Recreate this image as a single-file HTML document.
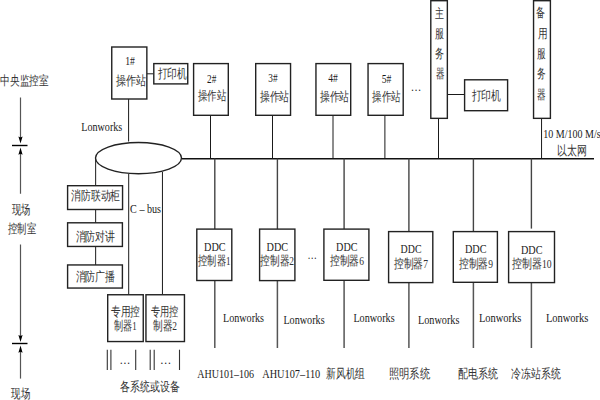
<!DOCTYPE html>
<html><head><meta charset="utf-8"><style>
html,body{margin:0;padding:0;background:#fff;width:600px;height:400px;overflow:hidden}
svg{display:block}
text{font-family:"Liberation Serif",serif;font-size:12.7px;fill:#1a1a1a}
text.c{fill:#333}
</style></head><body>
<svg width="600" height="400" viewBox="0 0 600 400">
<rect x="0" y="0" width="600" height="400" fill="#fff"/>
<line x1="147" y1="73.8" x2="153.5" y2="73.8" stroke="#1a1a1a" stroke-width="1.0"/>
<line x1="128.6" y1="99" x2="128.6" y2="141.5" stroke="#1a1a1a" stroke-width="1.0"/>
<line x1="182" y1="158.75" x2="594" y2="158.75" stroke="#111" stroke-width="1.5"/>
<line x1="210.5" y1="116" x2="210.5" y2="158.5" stroke="#1a1a1a" stroke-width="1.0"/>
<line x1="272.5" y1="116" x2="272.5" y2="158.5" stroke="#1a1a1a" stroke-width="1.0"/>
<line x1="333" y1="116" x2="333" y2="158.5" stroke="#1a1a1a" stroke-width="1.0"/>
<line x1="384.9" y1="116" x2="384.9" y2="158.5" stroke="#1a1a1a" stroke-width="1.0"/>
<line x1="438.5" y1="118" x2="438.5" y2="158.5" stroke="#1a1a1a" stroke-width="1.0"/>
<line x1="541.55" y1="118" x2="541.55" y2="158.5" stroke="#1a1a1a" stroke-width="1.0"/>
<line x1="447.5" y1="94.5" x2="464.5" y2="94.5" stroke="#1a1a1a" stroke-width="1.0"/>
<line x1="214.8" y1="158.5" x2="214.8" y2="229" stroke="#444" stroke-width="1.4"/>
<line x1="214.8" y1="280.5" x2="214.8" y2="348" stroke="#555" stroke-width="1.5"/>
<line x1="277.4" y1="158.5" x2="277.4" y2="229" stroke="#444" stroke-width="1.4"/>
<line x1="277.4" y1="280.5" x2="277.4" y2="348" stroke="#555" stroke-width="1.5"/>
<line x1="344.1" y1="158.5" x2="344.1" y2="229" stroke="#444" stroke-width="1.4"/>
<line x1="344.1" y1="280.3" x2="344.1" y2="348" stroke="#555" stroke-width="1.5"/>
<line x1="408.9" y1="158.5" x2="408.9" y2="231.6" stroke="#444" stroke-width="1.4"/>
<line x1="408.9" y1="282.5" x2="408.9" y2="348" stroke="#555" stroke-width="1.5"/>
<line x1="473.4" y1="158.5" x2="473.4" y2="231.6" stroke="#444" stroke-width="1.4"/>
<line x1="473.4" y1="282.3" x2="473.4" y2="348" stroke="#555" stroke-width="1.5"/>
<line x1="531.4" y1="158.5" x2="531.4" y2="228.6" stroke="#444" stroke-width="1.4"/>
<line x1="531.4" y1="282.5" x2="531.4" y2="348" stroke="#555" stroke-width="1.5"/>
<line x1="95.65" y1="158" x2="95.65" y2="265" stroke="#1a1a1a" stroke-width="1.0"/>
<line x1="128.7" y1="174" x2="128.7" y2="294.5" stroke="#1a1a1a" stroke-width="1.0"/>
<line x1="162.45" y1="172" x2="162.45" y2="294.5" stroke="#1a1a1a" stroke-width="1.0"/>
<line x1="107.3" y1="349.7" x2="107.3" y2="370" stroke="#333" stroke-width="1.1"/>
<line x1="110.9" y1="349.7" x2="110.9" y2="370" stroke="#333" stroke-width="1.1"/>
<line x1="135.7" y1="349.7" x2="135.7" y2="370" stroke="#333" stroke-width="1.1"/>
<line x1="150.2" y1="349.7" x2="150.2" y2="370" stroke="#333" stroke-width="1.1"/>
<line x1="154.2" y1="349.7" x2="154.2" y2="370" stroke="#333" stroke-width="1.1"/>
<line x1="179.5" y1="349.7" x2="179.5" y2="370" stroke="#333" stroke-width="1.1"/>
<line x1="20.5" y1="97.5" x2="20.5" y2="138.5" stroke="#555" stroke-width="1.2"/>
<polygon points="20.5,143.5 18.4,136.5 20.5,137.5 22.6,136.5" fill="#000"/>
<line x1="12" y1="145.5" x2="27.5" y2="145.5" stroke="#000" stroke-width="1.4"/>
<line x1="20.5" y1="152.5" x2="20.5" y2="193.75" stroke="#555" stroke-width="1.2"/>
<polygon points="20.5,147.5 18.4,154.7 20.5,153.7 22.6,154.7" fill="#000"/>
<line x1="20.5" y1="244.5" x2="20.5" y2="337" stroke="#555" stroke-width="1.2"/>
<polygon points="20.5,342 18.4,335 20.5,336 22.6,335" fill="#000"/>
<line x1="12" y1="343.5" x2="27.5" y2="343.5" stroke="#000" stroke-width="1.4"/>
<line x1="20.5" y1="350.5" x2="20.5" y2="378.6" stroke="#555" stroke-width="1.2"/>
<polygon points="20.5,345.5 18.4,352.7 20.5,351.7 22.6,352.7" fill="#000"/>
<ellipse cx="138.5" cy="158.1" rx="43.0" ry="15.6" fill="#fff" stroke="#222" stroke-width="1.4"/>
<rect x="111.75" y="47.00" width="35.10" height="52.00" fill="#fff" stroke="#222" stroke-width="1.4"/>
<rect x="153.80" y="63.60" width="33.95" height="20.30" fill="#fff" stroke="#222" stroke-width="1.4"/>
<rect x="193.60" y="63.60" width="34.70" height="51.70" fill="#fff" stroke="#222" stroke-width="1.4"/>
<rect x="255.70" y="63.60" width="34.85" height="51.70" fill="#fff" stroke="#222" stroke-width="1.4"/>
<rect x="315.95" y="63.60" width="34.75" height="51.70" fill="#fff" stroke="#222" stroke-width="1.4"/>
<rect x="368.05" y="63.60" width="35.15" height="51.70" fill="#fff" stroke="#222" stroke-width="1.4"/>
<rect x="430.80" y="0.70" width="16.55" height="117.65" fill="#fff" stroke="#222" stroke-width="1.4"/>
<rect x="464.60" y="79.80" width="43.00" height="30.90" fill="#fff" stroke="#222" stroke-width="1.4"/>
<rect x="533.55" y="0.70" width="16.85" height="117.65" fill="#fff" stroke="#222" stroke-width="1.4"/>
<rect x="67.60" y="185.70" width="54.95" height="23.80" fill="#fff" stroke="#222" stroke-width="1.4"/>
<rect x="67.60" y="222.80" width="54.80" height="23.65" fill="#fff" stroke="#222" stroke-width="1.4"/>
<rect x="67.60" y="264.95" width="54.80" height="23.10" fill="#fff" stroke="#222" stroke-width="1.4"/>
<rect x="107.70" y="294.75" width="35.55" height="46.80" fill="#fff" stroke="#222" stroke-width="1.4"/>
<rect x="145.95" y="294.75" width="38.50" height="46.80" fill="#fff" stroke="#222" stroke-width="1.4"/>
<rect x="196.80" y="229.10" width="35.00" height="51.40" fill="#fff" stroke="#222" stroke-width="1.4"/>
<rect x="259.60" y="229.10" width="35.30" height="51.50" fill="#fff" stroke="#222" stroke-width="1.4"/>
<rect x="323.90" y="229.10" width="45.00" height="51.20" fill="#fff" stroke="#222" stroke-width="1.4"/>
<rect x="388.60" y="231.60" width="44.20" height="51.00" fill="#fff" stroke="#222" stroke-width="1.4"/>
<rect x="453.30" y="231.60" width="44.10" height="50.70" fill="#fff" stroke="#222" stroke-width="1.4"/>
<rect x="508.60" y="231.60" width="45.90" height="51.00" fill="#fff" stroke="#222" stroke-width="1.4"/>
<text class="c" x="0.25" y="85.00" textLength="48.53" lengthAdjust="spacingAndGlyphs">中央监控室</text>
<text class="c" x="12.00" y="213.75" textLength="18.57" lengthAdjust="spacingAndGlyphs">现场</text>
<text class="c" x="8.00" y="232.75" textLength="28.00" lengthAdjust="spacingAndGlyphs">控制室</text>
<text class="c" x="11.15" y="398.40" textLength="18.86" lengthAdjust="spacingAndGlyphs">现场</text>
<text x="125.15" y="64.75" textLength="9.67" lengthAdjust="spacingAndGlyphs">1#</text>
<text class="c" x="115.80" y="85.25" textLength="30.27" lengthAdjust="spacingAndGlyphs">操作站</text>
<text class="c" x="157.50" y="78.25" textLength="29.18" lengthAdjust="spacingAndGlyphs">打印机</text>
<text x="81.30" y="131.00" textLength="40.94" lengthAdjust="spacingAndGlyphs">Lonworks</text>
<text x="207.00" y="82.85" textLength="9.26" lengthAdjust="spacingAndGlyphs">2#</text>
<text class="c" x="198.00" y="100.25" textLength="28.34" lengthAdjust="spacingAndGlyphs">操作站</text>
<text x="268.30" y="82.30" textLength="9.28" lengthAdjust="spacingAndGlyphs">3#</text>
<text class="c" x="259.70" y="100.50" textLength="29.67" lengthAdjust="spacingAndGlyphs">操作站</text>
<text x="328.30" y="82.30" textLength="9.63" lengthAdjust="spacingAndGlyphs">4#</text>
<text class="c" x="319.70" y="100.50" textLength="29.67" lengthAdjust="spacingAndGlyphs">操作站</text>
<text x="381.70" y="82.50" textLength="9.72" lengthAdjust="spacingAndGlyphs">5#</text>
<text class="c" x="372.00" y="100.50" textLength="28.54" lengthAdjust="spacingAndGlyphs">操作站</text>
<text x="410.70" y="91.30" textLength="10.57" lengthAdjust="spacingAndGlyphs">…</text>
<text class="c" x="435.30" y="17.75" textLength="8.95" lengthAdjust="spacingAndGlyphs">主</text>
<text class="c" x="435.30" y="37.50" textLength="8.95" lengthAdjust="spacingAndGlyphs">服</text>
<text class="c" x="435.30" y="57.50" textLength="8.95" lengthAdjust="spacingAndGlyphs">务</text>
<text class="c" x="435.80" y="78.10" textLength="8.54" lengthAdjust="spacingAndGlyphs">器</text>
<text class="c" x="471.50" y="100.00" textLength="29.54" lengthAdjust="spacingAndGlyphs">打印机</text>
<text class="c" x="536.25" y="16.75" textLength="9.00" lengthAdjust="spacingAndGlyphs">备</text>
<text class="c" x="537.50" y="38.00" textLength="9.61" lengthAdjust="spacingAndGlyphs">用</text>
<text class="c" x="537.00" y="57.50" textLength="8.65" lengthAdjust="spacingAndGlyphs">服</text>
<text class="c" x="537.00" y="77.75" textLength="8.65" lengthAdjust="spacingAndGlyphs">务</text>
<text class="c" x="537.00" y="99.00" textLength="8.65" lengthAdjust="spacingAndGlyphs">器</text>
<text x="543.20" y="137.60" textLength="57.40" lengthAdjust="spacingAndGlyphs">10 M/100 M/s</text>
<text class="c" x="557.00" y="154.50" textLength="29.81" lengthAdjust="spacingAndGlyphs">以太网</text>
<text x="130.10" y="213.00" textLength="30.97" lengthAdjust="spacingAndGlyphs">C – bus</text>
<text class="c" x="71.20" y="199.75" textLength="49.04" lengthAdjust="spacingAndGlyphs">消防联动柜</text>
<text class="c" x="75.50" y="240.70" textLength="39.84" lengthAdjust="spacingAndGlyphs">消防对讲</text>
<text class="c" x="75.50" y="280.80" textLength="39.90" lengthAdjust="spacingAndGlyphs">消防广播</text>
<text class="c" x="111.00" y="316.20" textLength="29.00" lengthAdjust="spacingAndGlyphs">专用控</text>
<text class="c" x="114.00" y="330.40" textLength="22.75" lengthAdjust="spacingAndGlyphs">制器1</text>
<text class="c" x="150.50" y="316.20" textLength="27.56" lengthAdjust="spacingAndGlyphs">专用控</text>
<text class="c" x="153.00" y="330.40" textLength="24.00" lengthAdjust="spacingAndGlyphs">制器2</text>
<text x="119.50" y="363.50" textLength="10.86" lengthAdjust="spacingAndGlyphs">…</text>
<text x="160.00" y="363.50" textLength="11.31" lengthAdjust="spacingAndGlyphs">…</text>
<text x="204.10" y="251.00" textLength="21.59" lengthAdjust="spacingAndGlyphs">DDC</text>
<text class="c" x="198.10" y="265.25" textLength="32.33" lengthAdjust="spacingAndGlyphs">控制器1</text>
<text x="266.50" y="251.00" textLength="21.59" lengthAdjust="spacingAndGlyphs">DDC</text>
<text class="c" x="260.40" y="265.25" textLength="33.64" lengthAdjust="spacingAndGlyphs">控制器2</text>
<text x="307.50" y="258.60" textLength="9.36" lengthAdjust="spacingAndGlyphs">…</text>
<text x="336.10" y="251.00" textLength="21.38" lengthAdjust="spacingAndGlyphs">DDC</text>
<text class="c" x="330.00" y="265.25" textLength="34.00" lengthAdjust="spacingAndGlyphs">控制器6</text>
<text x="400.60" y="253.00" textLength="20.89" lengthAdjust="spacingAndGlyphs">DDC</text>
<text class="c" x="394.00" y="267.80" textLength="34.00" lengthAdjust="spacingAndGlyphs">控制器7</text>
<text x="464.90" y="253.00" textLength="21.59" lengthAdjust="spacingAndGlyphs">DDC</text>
<text class="c" x="459.00" y="267.80" textLength="34.00" lengthAdjust="spacingAndGlyphs">控制器9</text>
<text x="521.00" y="253.75" textLength="21.48" lengthAdjust="spacingAndGlyphs">DDC</text>
<text class="c" x="512.20" y="268.00" textLength="39.35" lengthAdjust="spacingAndGlyphs">控制器10</text>
<text x="223.00" y="321.90" textLength="41.00" lengthAdjust="spacingAndGlyphs">Lonworks</text>
<text x="283.40" y="323.50" textLength="41.22" lengthAdjust="spacingAndGlyphs">Lonworks</text>
<text x="353.40" y="321.90" textLength="41.22" lengthAdjust="spacingAndGlyphs">Lonworks</text>
<text x="418.00" y="323.50" textLength="41.43" lengthAdjust="spacingAndGlyphs">Lonworks</text>
<text x="478.90" y="321.90" textLength="42.54" lengthAdjust="spacingAndGlyphs">Lonworks</text>
<text x="545.90" y="321.90" textLength="42.54" lengthAdjust="spacingAndGlyphs">Lonworks</text>
<text x="197.20" y="378.00" textLength="56.81" lengthAdjust="spacingAndGlyphs">AHU101–106</text>
<text x="262.20" y="378.00" textLength="58.03" lengthAdjust="spacingAndGlyphs">AHU107–110</text>
<text class="c" x="326.00" y="377.70" textLength="39.00" lengthAdjust="spacingAndGlyphs">新风机组</text>
<text class="c" x="388.60" y="377.70" textLength="41.29" lengthAdjust="spacingAndGlyphs">照明系统</text>
<text class="c" x="458.40" y="377.70" textLength="40.00" lengthAdjust="spacingAndGlyphs">配电系统</text>
<text class="c" x="511.00" y="377.70" textLength="49.42" lengthAdjust="spacingAndGlyphs">冷冻站系统</text>
<text class="c" x="120.40" y="390.90" textLength="59.68" lengthAdjust="spacingAndGlyphs">各系统或设备</text>
</svg>
</body></html>
